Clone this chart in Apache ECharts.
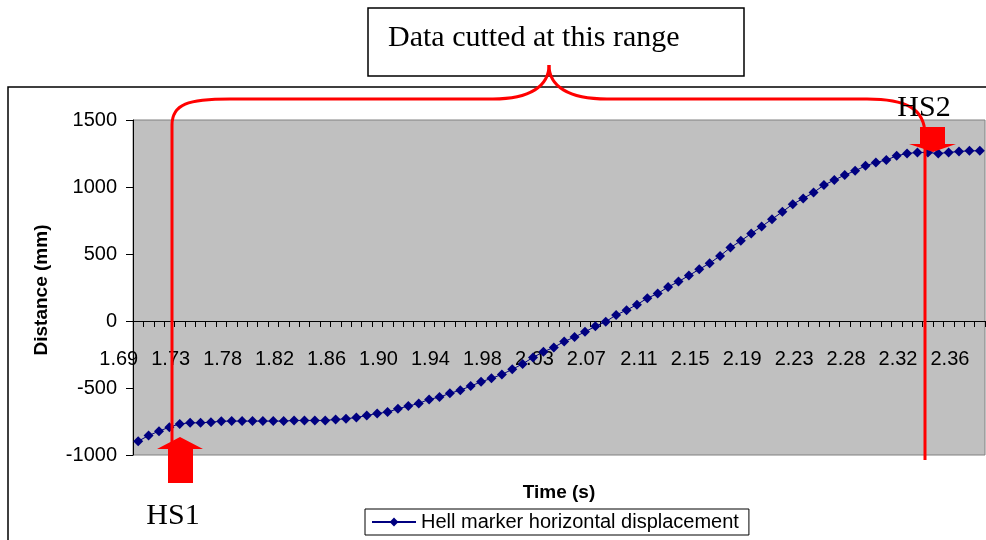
<!DOCTYPE html>
<html>
<head>
<meta charset="utf-8">
<script src="https://cdn.jsdelivr.net/npm/echarts@6/dist/echarts.min.js"></script>
<style>html,body{margin:0;padding:0;background:#fff;}#c{width:986px;height:540px;}</style>
</head>
<body>
<div id="c"></div>
<script>
// Time stamps (s), one per sample
var times = [
  '1.6917','1.7000','1.7083','1.7167','1.7250','1.7333','1.7417','1.7500','1.7583','1.7667',
  '1.7750','1.7833','1.7917','1.8000','1.8083','1.8167','1.8250','1.8333','1.8417','1.8500',
  '1.8583','1.8667','1.8750','1.8833','1.8917','1.9000','1.9083','1.9167','1.9250','1.9333',
  '1.9417','1.9500','1.9583','1.9667','1.9750','1.9833','1.9917','2.0000','2.0083','2.0167',
  '2.0250','2.0333','2.0417','2.0500','2.0583','2.0667','2.0750','2.0833','2.0917','2.1000',
  '2.1083','2.1167','2.1250','2.1333','2.1417','2.1500','2.1583','2.1667','2.1750','2.1833',
  '2.1917','2.2000','2.2083','2.2167','2.2250','2.2333','2.2417','2.2500','2.2583','2.2667',
  '2.2750','2.2833','2.2917','2.3000','2.3083','2.3167','2.3250','2.3333','2.3417','2.3500',
  '2.3583','2.3667'
];
// Hell marker horizontal displacement (mm)
var displacement = [
  -897,-855,-822,-792,-768,-760,-760,-755,-748,-747,
  -747,-747,-747,-747,-747,-742,-742,-742,-742,-735,
  -730,-720,-705,-690,-680,-655,-635,-615,-585,-568,
  -540,-516,-486,-454,-428,-399,-361,-320,-272,-230,
  -197,-153,-120,-81,-40,-5,45,81,122,170,
  205,254,294,339,386,431,486,548,598,653,
  705,760,815,872,914,959,1014,1052,1089,1121,
  1158,1183,1201,1233,1250,1258,1258,1250,1258,1265,
  1270,1270
];
var yTicks = { min: -1000, max: 1500, step: 500 };
var seriesName = 'Hell marker horizontal displacement';
var xTitle = 'Time (s)';
var yTitle = 'Distance (mm)';
var boxText = 'Data cutted at this range';
var markA = 'HS1', markB = 'HS2';

var chart = echarts.init(document.getElementById('c'), null, {renderer: 'canvas'});
var SANS = 'Liberation Sans, Arial, sans-serif';
var SERIF = 'Liberation Serif, Times New Roman, serif';
var RED = '#FF0000';
var GRID_TOP = 120, GRID_BOTTOM_PX = 455;

function redLine(x1, y1, x2, y2) {
  return {type: 'line', z: 100, shape: {x1: x1, y1: y1, x2: x2, y2: y2},
    style: {stroke: RED, lineWidth: 3}};
}
function redCurve(x1, y1, c1x, c1y, c2x, c2y, x2, y2) {
  return {type: 'bezierCurve', z: 100,
    shape: {x1: x1, y1: y1, cpx1: c1x, cpy1: c1y, cpx2: c2x, cpy2: c2y, x2: x2, y2: y2},
    style: {stroke: RED, lineWidth: 3, fill: null}};
}

// distance of zero line above the grid bottom, from the y scale
var zeroOffset = (0 - yTicks.min) / (yTicks.max - yTicks.min) * (GRID_BOTTOM_PX - GRID_TOP);

var option = {
  animation: false,
  backgroundColor: '#fff',
  grid: {left: 133, right: 1, top: GRID_TOP, bottom: 540 - GRID_BOTTOM_PX, show: true,
    backgroundColor: '#C0C0C0', borderColor: '#808080', borderWidth: 1},
  legend: {
    left: 365, top: 509, padding: [3, 10, 3, 6],
    borderColor: '#000', borderWidth: 1, backgroundColor: '#fff',
    itemWidth: 44, itemHeight: 11,
    textStyle: {fontFamily: SANS, fontSize: 20, color: '#000'},
    data: [seriesName]
  },
  xAxis: {
    type: 'category', data: times, boundaryGap: true,
    offset: -zeroOffset,
    axisLine: {onZero: false, lineStyle: {color: '#000', width: 1}},
    axisTick: {show: true, interval: 0, length: 6, lineStyle: {color: '#000'}},
    axisLabel: {interval: 4, align: 'right', margin: 28, fontFamily: SANS, fontSize: 20, color: '#000',
      formatter: function (v) { return (Math.round(parseFloat(v) * 100 + 1e-6) / 100).toFixed(2); }},
    splitLine: {show: false}
  },
  yAxis: {
    type: 'value', min: yTicks.min, max: yTicks.max, interval: yTicks.step,
    axisLine: {show: true, lineStyle: {color: '#000', width: 1}},
    axisTick: {show: true, length: 7, lineStyle: {color: '#000'}},
    axisLabel: {margin: 16, fontFamily: SANS, fontSize: 20, color: '#000',
      formatter: function (v) { return String(v); }},
    splitLine: {show: false}
  },
  series: [{
    name: seriesName, type: 'line', data: displacement,
    symbol: 'diamond', symbolSize: 10, showAllSymbol: true,
    lineStyle: {color: '#000080', width: 1},
    itemStyle: {color: '#000080'}
  }],
  graphic: [
    // outer chart border
    {type: 'rect', z: -10, shape: {x: 8, y: 87, width: 1000, height: 500},
      style: {fill: null, stroke: '#000', lineWidth: 1.5}},
    // text box
    {type: 'rect', z: 50, shape: {x: 368, y: 8, width: 376, height: 68},
      style: {fill: '#fff', stroke: '#000', lineWidth: 1.5}},
    {type: 'text', z: 51, x: 388, y: 38,
      style: {text: boxText, font: '30px ' + SERIF, fill: '#000', textVerticalAlign: 'middle', verticalAlign: 'middle'}},
    // axis titles
    {type: 'text', z: 51, x: 559, y: 493,
      style: {text: xTitle, font: 'bold 19px ' + SANS, fill: '#000', align: 'center', textAlign: 'center', verticalAlign: 'middle', textVerticalAlign: 'middle'}},
    {type: 'text', z: 51, x: 42, y: 290, rotation: Math.PI / 2,
      style: {text: yTitle, font: 'bold 19px ' + SANS, fill: '#000', align: 'center', textAlign: 'center', verticalAlign: 'middle', textVerticalAlign: 'middle'}},
    // bracket
    redLine(172, 450, 172, 125),
    redCurve(172, 125, 172, 104, 188, 99, 230, 99),
    redLine(230, 99, 493, 99),
    redCurve(493, 99, 530, 99, 549, 86, 549, 65),
    redCurve(549, 65, 549, 86, 568, 99, 607, 99),
    redLine(607, 99, 867, 99),
    redCurve(867, 99, 905, 99, 925, 108, 925, 135),
    redLine(925, 135, 925, 460),
    // arrows
    {type: 'polygon', z: 101, shape: {points: [[180, 437], [203, 449], [193, 449], [193, 483], [168, 483], [168, 449], [157, 449]]},
      style: {fill: RED}},
    {type: 'polygon', z: 101, shape: {points: [[920, 127], [945, 127], [945, 144], [956, 144], [933, 152], [909, 144], [920, 144]]},
      style: {fill: RED}},
    // labels
    {type: 'text', z: 102, x: 173, y: 516,
      style: {text: markA, font: '30px ' + SERIF, fill: '#000', align: 'center', textAlign: 'center', verticalAlign: 'middle', textVerticalAlign: 'middle'}},
    {type: 'text', z: 102, x: 924, y: 108,
      style: {text: markB, font: '30px ' + SERIF, fill: '#000', align: 'center', textAlign: 'center', verticalAlign: 'middle', textVerticalAlign: 'middle'}}
  ]
};
chart.setOption(option);
</script>
</body>
</html>
